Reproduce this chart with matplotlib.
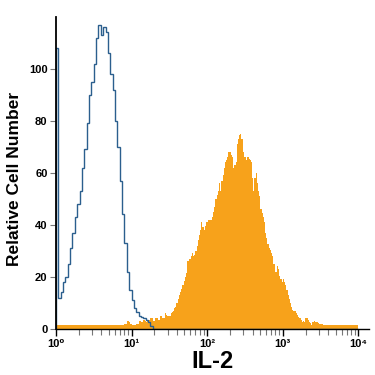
import numpy as np
import matplotlib
matplotlib.use("Agg")
import matplotlib.pyplot as plt
from matplotlib.ticker import FixedLocator, LogLocator, NullFormatter

plt.rcParams['font.family'] = ['Liberation Sans', 'DejaVu Sans']

# isotype control, 128 log-spaced bins from 10^0 to 10^4
isotype = [108, 12, 14, 18, 20, 25, 31, 37, 43, 48,
           53, 62, 69, 79, 90, 95, 102, 112, 117, 113,
           116, 114, 106, 98, 92, 80, 70, 57, 44, 33,
           22, 15, 11, 8, 6.5, 5, 4.5, 4, 3.5, 2.5,
           1] + [0] * 87

# IL-2 stained cells, 256 log-spaced bins from 10^0 to 10^4
il2 = [1.5] * 58 + [
    2, 2, 3, 3, 2.5, 2, 1.5, 1.5, 1.5, 1.5,
    2, 2, 3, 3, 2.5, 2.5, 3.5, 3, 2.5, 3,
    3.5, 3.5, 4, 4, 3, 3, 4, 4, 3.5, 3.5,
    5, 5, 4, 4, 6, 5.5, 5, 5, 5, 6,
    6.5, 7, 8, 8.5, 10, 11.5, 13, 14, 15.5, 17,
    18.5, 20, 21.5, 26, 26, 27, 28, 29, 28, 28.5,
    30, 32, 34, 36, 38, 41, 39, 38, 39.5, 41,
    41, 42, 42, 42, 43, 45, 47, 50, 51.5, 53,
    56, 53, 57, 59, 62, 64, 65, 66, 68, 68,
    67, 66, 62, 63, 64, 71, 73, 74.5, 75, 73,
    68, 66, 66, 65, 66, 65.5, 65, 64, 58, 53,
    58, 60, 56, 53, 51, 46, 44.5, 43, 41, 37,
    35, 32.5, 31, 30.5, 29, 28, 25, 22, 22, 24,
    23, 20.5, 19, 18, 19, 18, 17, 15, 13, 11.5,
    10, 8.5, 7.3, 7, 6.7, 6, 5.5, 4.7, 4, 3.5,
    2.8, 3, 2.8, 4, 4, 3.5, 2.5, 2.2, 1.5, 2.5,
    3, 2.7, 2.5, 2.5, 2.2, 2, 2, 1.8, 1.5] + [1.3] * 29

tick_vals = [1, 10, 100, 1000, 10000]
tick_labels = ['10⁰', '10¹', '10²', '10³', '10⁴']
y_ticks = [0, 20, 40, 60, 80, 100]

edges_iso = np.logspace(0, 4, len(isotype) + 1)
edges_il2 = np.logspace(0, 4, len(il2) + 1)

fig = plt.figure(figsize=(3.75, 3.75), dpi=100)
ax = fig.add_axes([0.149, 0.123, 0.835, 0.832])

ax.stairs(il2, edges_il2, fill=True, color='#F7A21B', linewidth=0)
ax.stairs(isotype, edges_iso, color='#2b5f8e', linewidth=1.0)

ax.set_xscale('log')
ax.set_xlim(1, 10 ** 4.14)
ax.set_ylim(0, 120)

ax.xaxis.set_major_locator(FixedLocator(tick_vals))
ax.set_xticklabels(tick_labels, fontsize=8, fontweight='bold')
ax.xaxis.set_minor_locator(LogLocator(base=10, subs=np.arange(2, 10)))
ax.xaxis.set_minor_formatter(NullFormatter())
ax.set_yticks(y_ticks)
ax.set_yticklabels([str(v) for v in y_ticks], fontsize=8, fontweight='bold')

ax.tick_params(axis='x', which='major', length=5, width=1, pad=2)
ax.tick_params(axis='x', which='minor', length=4, width=0.8, color='#777777')
ax.tick_params(axis='y', length=4, width=0.8, color='#777777', pad=2)

for side in ['top', 'right']:
    ax.spines[side].set_visible(False)
ax.spines['left'].set_linewidth(1.3)
ax.spines['bottom'].set_linewidth(1.0)

ax.set_ylabel('Relative Cell Number', fontsize=12.5, fontweight='bold')
ax.yaxis.set_label_coords(-0.108, 0.48)
ax.set_xlabel('IL-2', fontsize=17, fontweight='bold', labelpad=1)

fig.savefig('out.png', dpi=100)
